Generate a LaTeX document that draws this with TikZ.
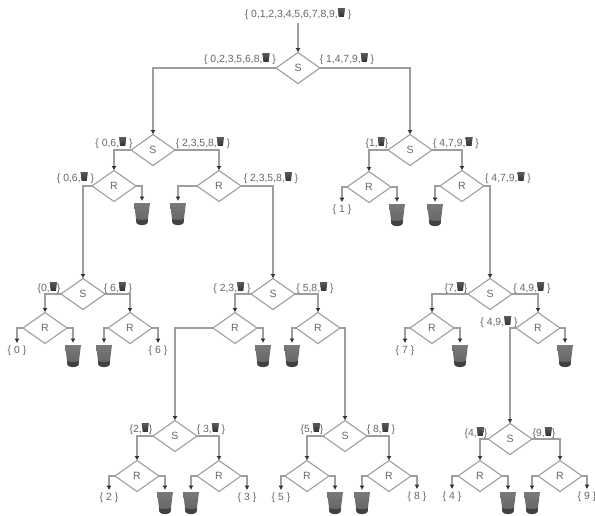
\documentclass[tikz,border=0pt]{standalone}
\usepackage{fontspec}
\setmainfont{Liberation Sans}
\usetikzlibrary{shapes.geometric,arrows.meta}
\definecolor{ink}{gray}{0.4}
\definecolor{wire}{gray}{0.62}
\definecolor{tip}{gray}{0.2}
\newcommand{\mb}{\tikz[baseline=-0.8pt,x=1pt,y=1pt]{\fill[top color=gray!70!black,bottom color=black!80] (0,8.6)--(7,8.6)--(6,0)--(1,0)--cycle;}}
\tikzset{
  x=1pt,y=-1pt,
  dec/.style={shape=diamond,draw=wire,line width=1.1pt,minimum width=44pt,minimum height=31pt,inner sep=0pt,aspect=1.45,text=ink,font=\fontsize{10.5}{12}\selectfont,outer sep=0pt},
  setlab/.style={text=ink,font=\fontsize{10.4}{12}\selectfont,inner sep=0pt,outer sep=3pt},
  conn/.style={draw=wire,line width=1.1pt,-{Latex[length=4.5pt,width=5pt,color=tip]}},
  bucket/.style={minimum width=16pt,minimum height=22pt,inner sep=0pt,outer sep=2pt,
    path picture={
      \path[top color=gray!105,bottom color=black!62,draw=none]
        (path picture bounding box.north west)
        -- (path picture bounding box.north east)
        -- ([xshift=-2.5pt,yshift=2.5pt]path picture bounding box.south east)
        to[out=-100,in=-80,looseness=0.5] ([xshift=2.5pt,yshift=2.5pt]path picture bounding box.south west) -- cycle;
      \fill[black!75] ([xshift=2pt,yshift=6pt]path picture bounding box.south west)
        to[out=-30,in=-150,looseness=0.6] ([xshift=-2pt,yshift=6pt]path picture bounding box.south east)
        -- ([xshift=-2.5pt,yshift=2pt]path picture bounding box.south east)
        to[out=-110,in=-70,looseness=0.7] ([xshift=2.5pt,yshift=2pt]path picture bounding box.south west) -- cycle;
    }},
}
\begin{document}
\begin{tikzpicture}
\useasboundingbox (0,0) rectangle (595,515);
% decision nodes
\node[dec] (s0) at (298,68) {S};
\node[dec] (s1) at (153,150) {S};
\node[dec] (s2) at (410,150) {S};
\node[dec] (r1) at (114,186) {R};
\node[dec] (r2) at (219,186) {R};
\node[dec] (r3) at (369,187) {R};
\node[dec] (r4) at (462,186) {R};
\node[dec] (s3) at (83,294) {S};
\node[dec] (s4) at (273,294) {S};
\node[dec] (s5) at (490,294) {S};
\node[dec] (r5) at (45,328) {R};
\node[dec] (r6) at (130,328) {R};
\node[dec] (r7) at (235,328) {R};
\node[dec] (r8) at (318,328) {R};
\node[dec] (r9) at (432,328) {R};
\node[dec] (r10) at (538,328) {R};
\node[dec] (s6) at (175,436) {S};
\node[dec] (s7) at (345,436) {S};
\node[dec] (s8) at (510,439) {S};
\node[dec] (r11) at (137,476) {R};
\node[dec] (r12) at (219,476) {R};
\node[dec] (r13) at (307,476) {R};
\node[dec] (r14) at (389,476) {R};
\node[dec] (r15) at (480,476) {R};
\node[dec] (r16) at (560,476) {R};
% buckets
\node[bucket] (b1) at (142,214) {};
\node[bucket] (b2) at (178,214) {};
\node[bucket] (b3) at (397,215) {};
\node[bucket] (b4) at (435,215) {};
\node[bucket] (b5) at (73,356) {};
\node[bucket] (b6) at (104,356) {};
\node[bucket] (b7) at (263,356) {};
\node[bucket] (b8) at (292,356) {};
\node[bucket] (b9) at (460,356) {};
\node[bucket] (b10) at (565,356) {};
\node[bucket] (b11) at (165,503) {};
\node[bucket] (b12) at (191,503) {};
\node[bucket] (b13) at (335,503) {};
\node[bucket] (b14) at (362,503) {};
\node[bucket] (b15) at (508,503) {};
\node[bucket] (b16) at (532,503) {};
% leaf sets
\node[setlab] (l0) at (17,351) {\{ 0 \}};
\node[setlab] (l1) at (342,210) {\{ 1 \}};
\node[setlab] (l2) at (109,498) {\{ 2 \}};
\node[setlab] (l3) at (247,498) {\{ 3 \}};
\node[setlab] (l4) at (452,497) {\{ 4 \}};
\node[setlab] (l5) at (281,498) {\{ 5 \}};
\node[setlab] (l6) at (158,351) {\{ 6 \}};
\node[setlab] (l7) at (405,351) {\{ 7 \}};
\node[setlab] (l8) at (417,497) {\{ 8 \}};
\node[setlab] (l9) at (587,497) {\{ 9 \}};
% root and branch sets
\node[setlab] (top) at (298,14) {\{ 0,1,2,3,4,5,6,7,8,9,\mb\ \}};
\node[setlab] at (240,59) {\{ 0,2,3,5,6,8,\mb\ \}};
\node[setlab] at (347,59) {\{ 1,4,7,9,\mb\ \}};
\node[setlab] at (114,143) {\{ 0,6,\mb\ \}};
\node[setlab] at (203,143) {\{ 2,3,5,8,\mb\ \}};
\node[setlab] at (377,143) {\{1,\mb\}};
\node[setlab] at (456,143) {\{ 4,7,9,\mb\ \}};
\node[setlab] at (75.5,178) {\{ 0,6,\mb\ \}};
\node[setlab] at (271,178) {\{ 2,3,5,8,\mb\ \}};
\node[setlab] at (508,178) {\{ 4,7,9,\mb\ \}};
\node[setlab] at (49,288) {\{0,\mb\}};
\node[setlab] at (118,288) {\{ 6,\mb\ \}};
\node[setlab] at (232,288) {\{ 2,3,\mb\ \}};
\node[setlab] at (315,288) {\{ 5,8,\mb\ \}};
\node[setlab] at (456,288) {\{7,\mb\}};
\node[setlab] at (532,288) {\{ 4,9,\mb\ \}};
\node[setlab] at (499,322) {\{ 4,9,\mb\ \}};
\node[setlab] at (141,429) {\{2,\mb\}};
\node[setlab] at (211,429) {\{ 3,\mb\ \}};
\node[setlab] at (312,429) {\{5,\mb\}};
\node[setlab] at (381,429) {\{ 8,\mb\ \}};
\node[setlab] at (476,433) {\{4,\mb\}};
\node[setlab] at (544,433) {\{9,\mb\}};
% connectors
\draw[conn] (top) -- (s0);
\draw[conn] (s0.west) -| (s1.north);
\draw[conn] (s0.east) -| (s2.north);
\draw[conn] (s1.west) -| (r1.north);
\draw[conn] (s1.east) -| (r2.north);
\draw[conn] (s2.west) -| (r3.north);
\draw[conn] (s2.east) -| (r4.north);
\draw[conn] (r1.west) -| (s3.north);
\draw[conn] (r1.east) -| (b1.north);
\draw[conn] (r2.west) -| (b2.north);
\draw[conn] (r2.east) -| (s4.north);
\draw[conn] (r3.west) -| (l1.north);
\draw[conn] (r3.east) -| (b3.north);
\draw[conn] (r4.west) -| (b4.north);
\draw[conn] (r4.east) -| (s5.north);
\draw[conn] (s3.west) -| (r5.north);
\draw[conn] (s3.east) -| (r6.north);
\draw[conn] (s4.west) -| (r7.north);
\draw[conn] (s4.east) -| (r8.north);
\draw[conn] (s5.west) -| (r9.north);
\draw[conn] (s5.east) -| (r10.north);
\draw[conn] (r5.west) -| (l0.north);
\draw[conn] (r5.east) -| (b5.north);
\draw[conn] (r6.west) -| (b6.north);
\draw[conn] (r6.east) -| (l6.north);
\draw[conn] (r7.west) -| (s6.north);
\draw[conn] (r7.east) -| (b7.north);
\draw[conn] (r8.west) -| (b8.north);
\draw[conn] (r8.east) -| (s7.north);
\draw[conn] (r9.west) -| (l7.north);
\draw[conn] (r9.east) -| (b9.north);
\draw[conn] (r10.west) -| (s8.north);
\draw[conn] (r10.east) -| (b10.north);
\draw[conn] (s6.west) -| (r11.north);
\draw[conn] (s6.east) -| (r12.north);
\draw[conn] (s7.west) -| (r13.north);
\draw[conn] (s7.east) -| (r14.north);
\draw[conn] (s8.west) -| (r15.north);
\draw[conn] (s8.east) -| (r16.north);
\draw[conn] (r11.west) -| (l2.north);
\draw[conn] (r11.east) -| (b11.north);
\draw[conn] (r12.west) -| (b12.north);
\draw[conn] (r12.east) -| (l3.north);
\draw[conn] (r13.west) -| (l5.north);
\draw[conn] (r13.east) -| (b13.north);
\draw[conn] (r14.west) -| (b14.north);
\draw[conn] (r14.east) -| (l8.north);
\draw[conn] (r15.west) -| (l4.north);
\draw[conn] (r15.east) -| (b15.north);
\draw[conn] (r16.west) -| (b16.north);
\draw[conn] (r16.east) -| (l9.north);
\end{tikzpicture}
\end{document}
